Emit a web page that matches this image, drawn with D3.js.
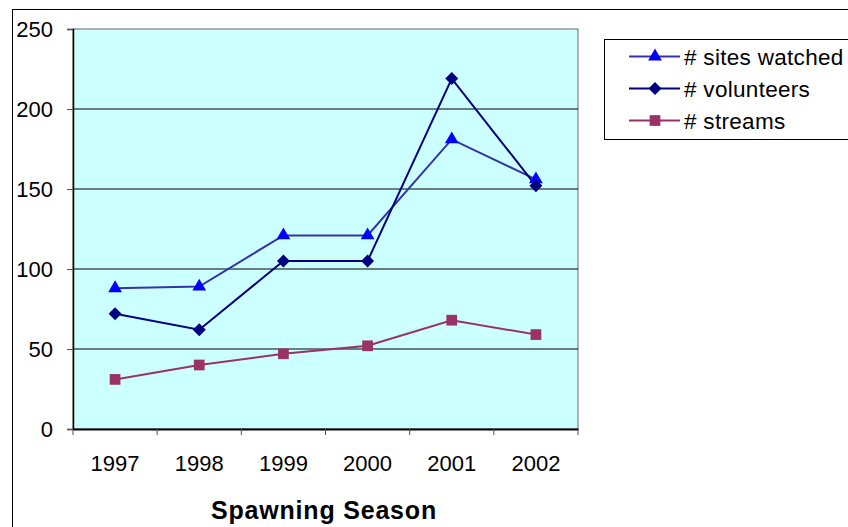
<!DOCTYPE html>
<html>
<head>
<meta charset="utf-8">
<script src="https://cdn.jsdelivr.net/npm/d3@7"></script>
<style>
  html, body { margin: 0; padding: 0; background: #fff; }
  svg { display: block; font-family: "Liberation Sans", Arial, sans-serif; }
</style>
</head>
<body>
<svg id="chart" width="848" height="527"></svg>
<script>
// Spawning-season survey counts
const seasons = ["1997", "1998", "1999", "2000", "2001", "2002"];
const sitesWatched = [88, 89, 121, 121, 181, 156];
const volunteers = [72, 62, 105, 105, 219, 152];
const streams = [31, 40, 47, 52, 68, 59];
const yTicks = [0, 50, 100, 150, 200, 250];

// rhombus marker: a square turned 45 degrees
const rhombus = {
  draw(ctx, size) {
    const r = Math.sqrt(size) / 2 * Math.SQRT2;
    ctx.moveTo(0, -r); ctx.lineTo(r, 0); ctx.lineTo(0, r); ctx.lineTo(-r, 0); ctx.closePath();
  }
};

const series = [
  { name: "# sites watched", values: sitesWatched, line: "#3333aa", fill: "#0000ff", shape: d3.symbolTriangle, size: 82 },
  { name: "# volunteers", values: volunteers, line: "#000080", fill: "#000080", shape: rhombus, size: 84 },
  { name: "# streams", values: streams, line: "#993366", fill: "#993366", shape: d3.symbolSquare, size: 115 }
];

const svg = d3.select("#chart");
const plot = { left: 73, top: 29, right: 578, bottom: 429 };
const font = "Liberation Sans, Arial, sans-serif";

// outer chart frame
svg.append("rect")
  .attr("x", 12.5).attr("y", 9.5)
  .attr("width", 860).attr("height", 540)
  .attr("fill", "#fff").attr("stroke", "#000").attr("stroke-width", 1);

const x = d3.scaleBand().domain(seasons).range([plot.left, plot.right]);
const y = d3.scaleLinear().domain([0, 250]).range([plot.bottom, plot.top]);

// plot area
svg.append("rect")
  .attr("x", plot.left).attr("y", plot.top)
  .attr("width", plot.right - plot.left).attr("height", plot.bottom - plot.top)
  .attr("fill", "#ccffff").attr("stroke", "#666").attr("stroke-width", 1);

// horizontal gridlines
svg.append("g").selectAll("line")
  .data(yTicks.filter(t => t > 0 && t < 250))
  .join("line")
  .attr("x1", plot.left).attr("x2", plot.right)
  .attr("y1", d => y(d)).attr("y2", d => y(d))
  .attr("stroke", "#000").attr("stroke-width", 1);

// y axis
const yAxis = svg.append("g")
  .attr("transform", `translate(${plot.left},0)`)
  .call(d3.axisLeft(y).tickValues(yTicks).tickSize(6).tickPadding(14));
yAxis.select(".domain").attr("stroke", "#000").attr("stroke-width", 1.5);
yAxis.selectAll(".tick line").attr("stroke", "#555");
yAxis.selectAll("text").attr("font-size", 22).attr("fill", "#000").attr("font-family", font);

// x axis with ticks at band edges
const xAxis = svg.append("g")
  .attr("transform", `translate(0,${plot.bottom})`)
  .call(d3.axisBottom(x).tickSize(0).tickPadding(26));
xAxis.select(".domain").attr("stroke", "#000").attr("stroke-width", 2);
xAxis.selectAll("text").attr("font-size", 22).attr("fill", "#000").attr("font-family", font);
const edges = seasons.map(s => x(s)).concat([plot.right]);
xAxis.append("g").selectAll("line").data(edges).join("line")
  .attr("x1", d => d).attr("x2", d => d)
  .attr("y1", 0).attr("y2", 6)
  .attr("stroke", "#555");

svg.append("text")
  .attr("x", 324).attr("y", 519)
  .attr("text-anchor", "middle")
  .attr("font-size", 25).attr("font-weight", "bold").attr("font-family", font)
  .attr("letter-spacing", 0.8)
  .text("Spawning Season");

// series lines and markers
const cx = s => x(s) + x.bandwidth() / 2;
const line = d3.line().x((d, i) => cx(seasons[i])).y(d => y(d));

series.forEach(s => {
  svg.append("path")
    .attr("d", line(s.values))
    .attr("fill", "none").attr("stroke", s.line).attr("stroke-width", 2);
});
series.forEach(s => {
  svg.append("g").selectAll("path")
    .data(s.values).join("path")
    .attr("transform", (d, i) => `translate(${cx(seasons[i])},${y(d)})`)
    .attr("d", d3.symbol().type(s.shape).size(s.size)())
    .attr("fill", s.fill);
});

// legend
const legend = svg.append("g");
legend.append("rect")
  .attr("x", 604.5).attr("y", 39.5).attr("width", 260).attr("height", 100)
  .attr("fill", "#fff").attr("stroke", "#000");
series.forEach((s, i) => {
  const ly = 56.5 + i * 32;
  legend.append("line")
    .attr("x1", 629).attr("x2", 680).attr("y1", ly).attr("y2", ly)
    .attr("stroke", s.line).attr("stroke-width", 2);
  legend.append("path")
    .attr("transform", `translate(655,${ly})`)
    .attr("d", d3.symbol().type(s.shape).size(s.size)())
    .attr("fill", s.fill);
  legend.append("text")
    .attr("x", 684).attr("y", ly + 8)
    .attr("font-size", 22.5).attr("fill", "#000").attr("font-family", font)
    .attr("letter-spacing", 0.3)
    .text(s.name);
});
</script>
</body>
</html>
